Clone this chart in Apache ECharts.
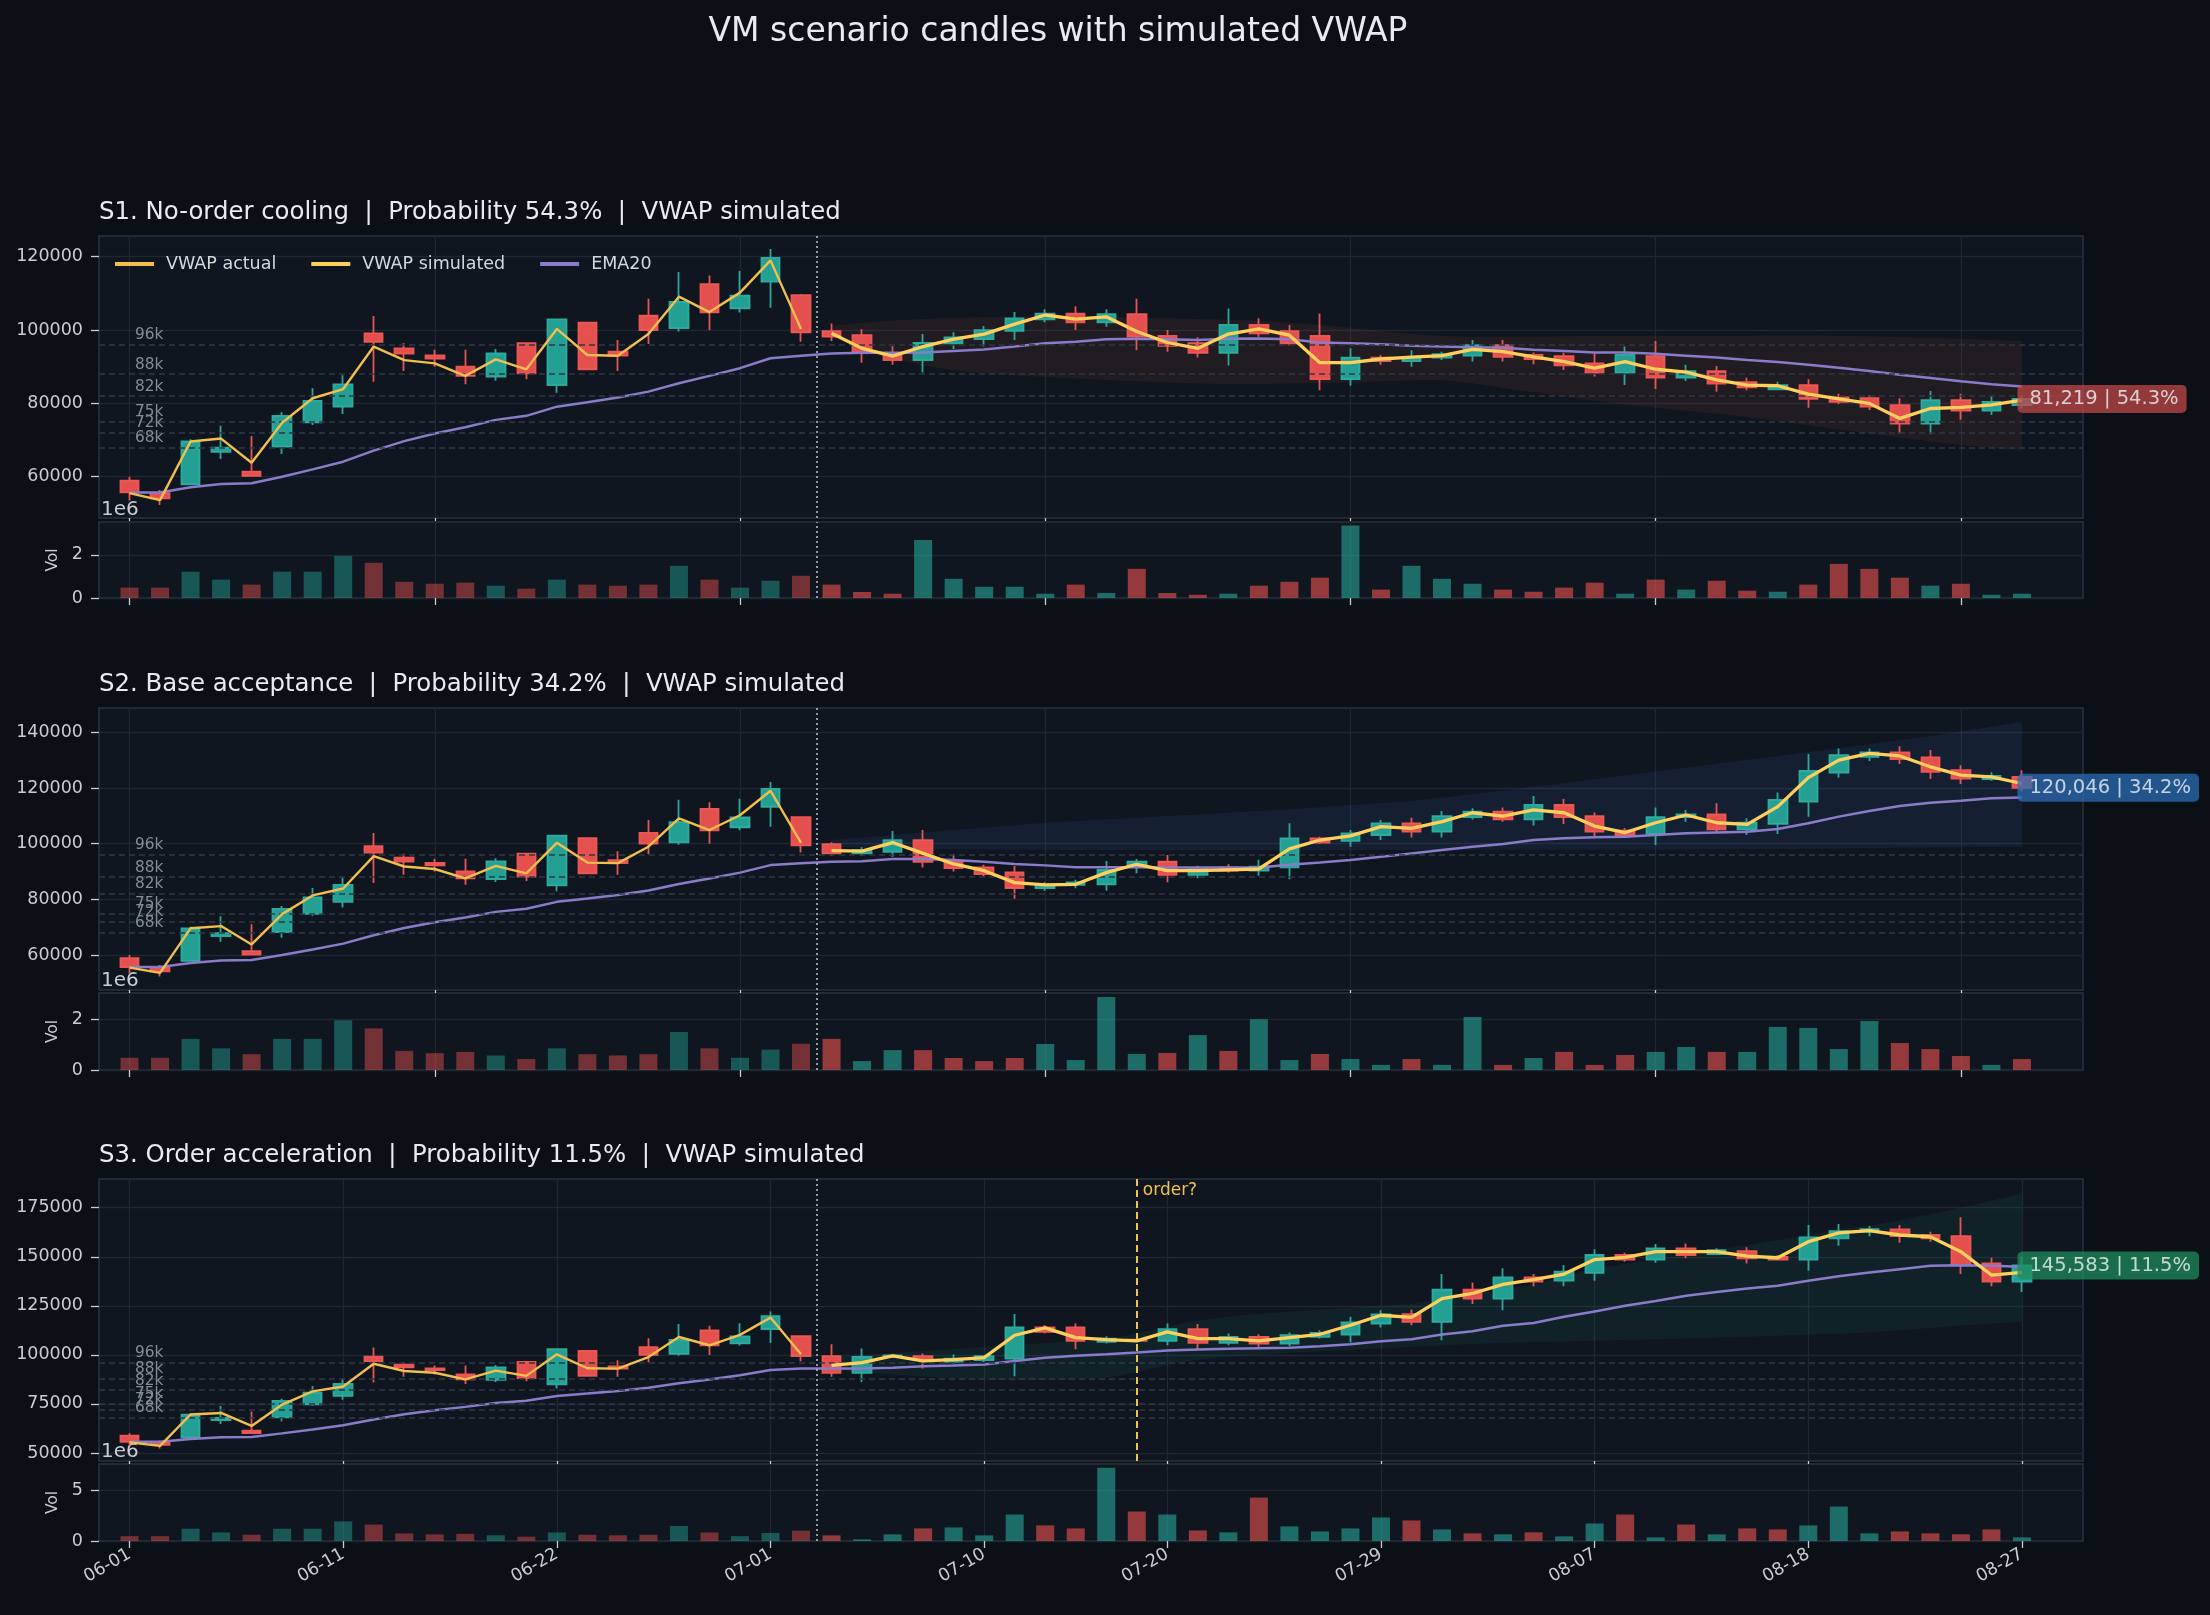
<!DOCTYPE html>
<html>
<head>
<meta charset="utf-8">
<title>VM scenario candles with simulated VWAP</title>
<script src="https://cdn.jsdelivr.net/npm/echarts@6/dist/echarts.min.js"></script>
<style>
  html, body { margin: 0; padding: 0; background: #0b1017; }
  #main { width: 2210px; height: 1615px; }
</style>
</head>
<body>
<div id="main"></div>
<script>
// trading days, index 0..62
const dates = ['06-01','06-03','06-04','06-05','06-08','06-09','06-10','06-11','06-12','06-15',
  '06-16','06-17','06-18','06-19','06-22','06-23','06-24','06-25','06-26','06-29',
  '06-30','07-01','07-02','07-03','07-06','07-07','07-08','07-09','07-10','07-13',
  '07-14','07-15','07-16','07-17','07-20','07-21','07-22','07-23','07-24','07-27',
  '07-28','07-29','07-30','07-31','08-03','08-04','08-05','08-06','08-07','08-10',
  '08-11','08-12','08-13','08-14','08-17','08-18','08-19','08-20','08-21','08-24',
  '08-25','08-26','08-27'];
const lastHistIdx = 22;
const orderIdx = 33;

// actual candles (shared by all scenarios)
const histOpen  = [58900,55500,57900,66800,61400,68200,74800,79100,99100,95000,93100,90000,87300,96400,85000,102000,94100,103900,100500,112500,105900,113200,109500];
const histClose = [55700,54100,69600,67900,60200,76600,80700,85200,96800,93600,92200,87500,93600,88200,102900,89300,93000,100000,107700,104800,109400,119700,99400];
const histLow   = [53500,52300,57700,64800,60000,66200,74100,77100,85900,88800,90000,85200,86200,86600,82900,89100,88800,96200,99600,100000,104800,106100,96800];
const histHigh  = [60000,56400,70200,73900,71100,77600,84100,87700,103800,96400,94600,94600,94800,96600,103100,102200,97300,108500,115800,114900,116100,122100,109800];
const vwapActual = [55500,53600,69600,70400,63800,74700,81400,83900,95500,91800,90900,87500,92000,89300,100300,93200,93000,98900,109100,104900,110200,119000,100300];
const emaHist   = [55700,55700,57100,58000,58200,60000,62000,64100,67100,69700,71800,73500,75500,76600,79100,80300,81600,83200,85500,87500,89600,92300,93000];
const volHist   = [0.48,0.48,1.22,0.85,0.62,1.22,1.22,1.95,1.63,0.75,0.66,0.71,0.57,0.43,0.85,0.62,0.57,0.62,1.49,0.85,0.48,0.80,1.03]; // x1e6

// S1 simulated path (idx 23..62)
const s1Open  = [99700,98600,93600,91800,96400,97500,99800,102900,104500,102100,104300,98400,96400,93800,101400,99700,98400,86600,92500,91500,92500,93000,95900,93200,92900,90900,88400,92900,87000,88800,85800,83800,85000,81600,81400,79500,74500,80900,78000,79500];
const s1Close = [98200,93900,91800,96500,98000,100000,103200,104500,102100,104300,98200,95700,93800,101400,99100,96400,86600,92500,91500,92700,93400,95900,92700,92100,90400,88400,93200,87000,88800,85400,84400,85000,81200,80400,79100,74500,80900,78000,80400,81219];
const s1Low   = [97000,91100,90500,88400,94800,95500,97300,102100,100000,100900,94500,94100,92500,90300,98200,95700,83600,84800,90500,90000,91800,91400,91400,90700,89100,87300,85000,83900,86100,83200,83600,83600,78800,79800,78200,71800,71600,75500,76800,78600];
const s1High  = [101800,100200,95600,98900,99400,101100,104900,105700,106500,105700,108500,100000,98000,105900,103200,101400,104500,95000,93200,94500,94100,97300,97300,93900,93800,93600,95500,97000,90500,90200,87000,85900,86600,82600,82300,81400,83400,82600,82000,82300];
const s1Vwap  = [99100,95000,92900,95500,97500,98900,101600,104100,103000,103600,99600,96600,95000,98900,100300,98600,91100,91100,92100,92600,93000,94700,94100,92700,91400,89600,91400,89300,88500,86400,85000,84800,82500,81200,80000,75900,78600,78900,79600,80900];
const s1Ema   = [93600,93800,93800,93900,94300,94700,95500,96400,96800,97500,97600,97500,97300,97600,97700,97500,96600,96400,96100,95700,95500,95300,95200,94600,94300,93900,93900,93500,93000,92500,91800,91300,90500,89700,88800,87800,86900,86000,85200,84600];
const s1Vol   = [0.62,0.28,0.20,2.69,0.89,0.52,0.52,0.20,0.62,0.23,1.35,0.23,0.15,0.20,0.57,0.75,0.94,3.36,0.39,1.49,0.89,0.66,0.39,0.29,0.48,0.71,0.20,0.85,0.39,0.80,0.34,0.29,0.62,1.58,1.35,0.94,0.57,0.66,0.15,0.20];
const s1BandHi = [101200,102000,102600,103000,103300,103500,103600,103700,103700,103600,103400,103200,103000,102800,102500,102000,101400,100600,99700,98900,98400,98200,98200,98200,98300,98400,98400,98400,98400,98400,98400,98500,98500,98400,98300,98100,97900,97600,97300,97100];
const s1BandLo = [98000,95000,92300,90300,89000,88200,87600,87200,86800,86400,86000,85700,85400,85300,85300,85400,85500,85700,86000,86300,86400,85500,84200,83000,81800,80700,79700,78800,78000,77200,76300,75200,74000,72900,71800,70700,69600,68700,67900,67100];

// S2 simulated path
const s2Open  = [99800,96500,97100,101300,93500,91500,89700,84000,85200,85400,92400,93500,88800,91400,90300,91500,101900,101000,103100,107300,104300,109500,111500,108700,113900,109900,104700,103500,109500,110500,105100,107100,115100,125500,131200,132800,131000,126400,123200,124000];
const s2Close = [96500,97700,101300,93500,91200,89100,84000,85200,86100,90600,93500,88800,90800,90300,91700,101900,100400,103700,107300,104300,109900,111500,108700,113900,109500,104300,103100,109500,110500,105100,107500,115700,126100,131800,132800,130400,125800,123400,124300,120046];
const s2Low   = [95700,95700,95300,91400,90000,88200,80200,83100,84000,83100,89400,86100,87600,89600,88500,87200,99900,98900,101300,102200,102200,108700,107900,106500,107100,102500,102500,99500,107900,104000,103100,103500,109700,123700,129700,128600,123200,121400,122600,118700];
const s2High  = [100500,98700,104500,104900,96300,92400,92000,86100,87000,93800,94500,95900,92100,92600,94200,107300,102500,104900,108500,109300,111700,112700,113000,117100,116000,111200,105500,113000,112100,114500,109100,118400,132200,134200,134200,135000,133600,128200,125600,126400];
const s2Vwap  = [97500,97300,100400,96500,92700,90300,86000,85200,85400,89600,92600,90300,90300,90600,90900,98100,101300,102800,106100,105500,107900,111100,109900,112100,111100,106300,104000,107500,110300,107500,106900,113300,123700,130000,132400,131500,127600,124600,124000,121600];
const s2Ema   = [93500,93700,94500,94500,94100,93500,92700,92200,91500,91500,91500,91400,91400,91400,91400,92400,93200,94100,95300,96500,97700,98900,99900,101300,101900,102300,102500,103100,103700,104000,104300,105300,107300,109700,111700,113500,114700,115400,116300,116600];
const s2Vol   = [1.22,0.35,0.78,0.78,0.47,0.35,0.47,1.02,0.39,2.86,0.63,0.67,1.37,0.75,1.99,0.39,0.63,0.43,0.20,0.43,0.20,2.08,0.20,0.47,0.71,0.20,0.59,0.71,0.90,0.71,0.71,1.69,1.65,0.82,1.92,1.06,0.82,0.55,0.20,0.43];
const s2BandHi = [101300,102200,103100,104000,104900,105700,106600,107500,108100,108700,109300,109900,110500,111100,111700,112400,113100,113800,114500,115300,116500,117800,119100,120400,121700,123100,124500,125900,127300,128700,130100,131500,132900,134300,135700,137100,138600,140300,142000,143800];
const s2BandLo = [99000,98600,98300,98100,98000,97900,97800,97800,97700,97700,97700,97600,97600,97600,97600,97600,97600,97600,97700,97700,97700,97800,97800,97800,97800,97800,97800,97800,97900,97900,98000,98100,98200,98300,98400,98500,98600,98700,98800,98900];

// S3 simulated path
const s3Open  = [99300,90800,99000,99300,96400,97300,98100,114000,114000,106600,107800,107100,113100,106100,109200,105800,109200,110400,116000,120800,116800,133300,128700,139500,137800,141800,150900,148600,154300,151400,152900,150000,148600,159400,162800,164000,161100,160500,146600,137300];
const s3Close = [90800,99000,99800,97300,98100,99300,114000,111700,107100,108300,107100,113100,106100,109200,105800,110000,111200,116500,120600,116800,133300,128700,139500,137300,142400,150900,148600,154300,150900,153400,149200,148600,159900,163100,164100,160500,159400,145800,137300,145583];
const s3Low   = [88800,86200,98500,93000,95200,96400,89100,110900,102900,105800,106600,104900,102900,104900,104100,104400,108300,106300,113900,115100,107500,125900,122800,135000,135000,137800,147500,146900,149200,150900,146600,148300,142900,155600,160500,157100,157700,141200,135000,132100];
const s3High  = [105400,103200,100300,100700,100200,99800,120800,115100,116000,109500,108300,116000,115700,110900,110500,111400,112600,119400,122800,123100,141200,136900,144100,141200,145800,153900,152000,156500,156800,154300,154800,150900,166200,166700,165700,166200,162800,170100,149500,150000];
const s3Vwap  = [94700,96100,99500,96900,97600,98600,110000,113800,108800,107800,107100,111700,108300,108300,107100,108800,110500,115100,120200,119100,128700,131300,135900,138400,141200,148600,149700,152600,152600,152600,150300,149500,157700,162200,163300,161100,160200,152600,140700,142000];
const s3Ema   = [93000,93000,93500,94200,94600,95100,96900,98600,99500,100300,101200,102200,102700,103100,103400,103700,104400,105400,107000,108000,110400,112100,114800,116300,119400,122100,125000,127500,130100,132100,133800,135200,137800,140100,142000,143700,145400,145700,145400,144900];
const s3Vol   = [0.56,0.16,0.66,1.25,1.35,0.56,2.63,1.55,1.25,7.27,2.93,2.63,1.05,0.86,4.31,1.45,0.95,1.25,2.34,2.04,1.15,0.76,0.66,0.86,0.46,1.74,2.63,0.36,1.64,0.66,1.25,1.15,1.55,3.42,0.76,0.95,0.76,0.66,1.15,0.36];
const s3BandHi = [99000,100000,101000,102000,103000,104000,105000,106000,107000,108000,111000,114500,117500,119500,121000,122000,123000,124000,125000,126000,128500,131000,133500,136000,140000,144000,146500,148500,151000,153500,156000,158500,161000,164000,166000,168500,171500,175000,178500,182300];
const s3BandLo = [92000,91000,90000,89000,88000,87300,87000,87200,87600,88500,91000,95000,97500,99000,100000,101000,101800,102500,103200,104000,104800,105500,106000,106400,106800,107200,107600,108000,108400,108800,109300,109800,110300,110800,111500,112500,113700,115000,116000,116800];

// reference levels
const levels = [96000, 88000, 82000, 75000, 72000, 68000];
const levelLabels = ['96k', '88k', '82k', '75k', '72k', '68k'];

const titles = [
  'S1. No-order cooling  |  Probability 54.3%  |  VWAP simulated',
  'S2. Base acceptance  |  Probability 34.2%  |  VWAP simulated',
  'S3. Order acceleration  |  Probability 11.5%  |  VWAP simulated'
];
const endLabels = ['81,219 | 54.3%', '120,046 | 34.2%', '145,583 | 11.5%'];

// layout / style per panel
const FONT = 'DejaVu Sans';
const ticks10 = [0, 10, 20, 30, 40, 50, 60];
const ticksS3 = [0, 7, 14, 21, 28, 34, 41, 48, 55, 62];
const panels = [
  { o: s1Open, c: s1Close, l: s1Low, h: s1High, vwap: s1Vwap, ema: s1Ema, vol: s1Vol, hi: s1BandHi, lo: s1BandLo,
    top: 236, volTop: 522, volH: 76, yMin: 48737, yMax: 125645, yTicks: [60000, 80000, 100000, 120000],
    volMax: 3.52e6, volTicks: [0, 2e6], xTicks: ticks10, band: 'rgba(239,83,80,0.08)', box: 'rgba(190,70,72,0.94)' },
  { o: s2Open, c: s2Close, l: s2Low, h: s2High, vwap: s2Vwap, ema: s2Ema, vol: s2Vol, hi: s2BandHi, lo: s2BandLo,
    top: 708, volTop: 993, volH: 77, yMin: 47444, yMax: 148717, yTicks: [60000, 80000, 100000, 120000, 140000],
    volMax: 3.02e6, volTicks: [0, 2e6], xTicks: ticks10, band: 'rgba(58,123,213,0.10)', box: 'rgba(44,107,181,0.94)' },
  { o: s3Open, c: s3Close, l: s3Low, h: s3High, vwap: s3Vwap, ema: s3Ema, vol: s3Vol, hi: s3BandHi, lo: s3BandLo,
    top: 1179, volTop: 1464, volH: 77, yMin: 45918, yMax: 189643, yTicks: [50000, 75000, 100000, 125000, 150000, 175000],
    volMax: 7.65e6, volTicks: [0, 5e6], xTicks: ticksS3, band: 'rgba(38,166,154,0.08)', box: 'rgba(30,139,92,0.94)' }
];

const GRID_LEFT = 99, GRID_W = 1984, PRICE_H = 282;
const tickColor = '#c9cdd3';
const gridLine = { show: true, lineStyle: { color: '#1f2732', width: 1.3 } };

const chart = echarts.init(document.getElementById('main'));

const grids = [], xAxes = [], yAxes = [], series = [];

function xAxisFor(gridIndex, ticks, showLabels, tickLen) {
  return {
    type: 'value', gridIndex: gridIndex, min: -1, max: 64,
    axisLine: { show: false, onZero: false },
    axisTick: { show: true, customValues: ticks, length: tickLen, lineStyle: { color: tickColor, width: 1.3 } },
    axisLabel: {
      show: showLabels, customValues: ticks, rotate: 30, margin: 12,
      color: tickColor, fontSize: 17.5, fontFamily: FONT,
      formatter: function (v) { return dates[v] || ''; }
    },
    splitLine: gridLine
  };
}

function yAxisFor(gridIndex, min, max, ticks, fmt) {
  return {
    type: 'value', gridIndex: gridIndex, min: min, max: max,
    axisLine: { show: false, onZero: false },
    axisTick: { show: true, customValues: ticks, length: 8, lineStyle: { color: tickColor, width: 1.3 } },
    axisLabel: { customValues: ticks, margin: 16, color: tickColor, fontSize: 17.5, fontFamily: FONT, formatter: fmt },
    splitLine: gridLine
  };
}

const gridStyle = { show: true, backgroundColor: '#10161f', borderColor: '#2a323c', borderWidth: 1.5 };

panels.forEach(function (p, k) {
  const gi = k * 2, vi = k * 2 + 1;
  grids.push(Object.assign({ left: GRID_LEFT, top: p.top, width: GRID_W, height: PRICE_H }, gridStyle));
  grids.push(Object.assign({ left: GRID_LEFT, top: p.volTop, width: GRID_W, height: p.volH }, gridStyle));
  xAxes.push(xAxisFor(gi, p.xTicks, false, 3));
  xAxes.push(xAxisFor(vi, p.xTicks, k === 2, 7));
  yAxes.push(yAxisFor(gi, p.yMin, p.yMax, p.yTicks, function (v) { return String(v); }));
  yAxes.push(yAxisFor(vi, 0, p.volMax, p.volTicks, function (v) { return String(v / 1e6); }));

  const open = histOpen.concat(p.o), close = histClose.concat(p.c);
  const low = histLow.concat(p.l), high = histHigh.concat(p.h);
  const vols = volHist.concat(p.vol);
  const first = lastHistIdx + 1;

  // simulated range band
  series.push({
    type: 'custom', xAxisIndex: gi, yAxisIndex: gi, silent: true,
    data: [[first, p.lo[0]]], encode: { x: 0, y: 1 },
    renderItem: function (params, api) {
      const pts = [];
      p.hi.forEach(function (v, j) { pts.push(api.coord([first + j, v])); });
      for (let j = p.lo.length - 1; j >= 0; j--) pts.push(api.coord([first + j, p.lo[j]]));
      return { type: 'polygon', shape: { points: pts }, style: { fill: p.band } };
    }
  });

  // candles + reference levels + divider
  const marks = levels.map(function (v, j) {
    return { yAxis: v, label: { formatter: levelLabels[j] } };
  });
  marks.push({ xAxis: lastHistIdx + 0.5, lineStyle: { type: [2, 3], color: '#b4bac2', width: 1.6 }, label: { show: false } });
  if (k === 2) {
    marks.push({ xAxis: orderIdx, lineStyle: { type: [7, 4], color: '#f2c14e', width: 2 }, label: { show: false } });
  }
  series.push({
    type: 'candlestick', name: 'candles', xAxisIndex: gi, yAxisIndex: gi,
    data: open.map(function (o, i) { return [i, o, close[i], low[i], high[i]]; }),
    encode: { x: 0, y: [1, 2, 3, 4] },
    barWidth: 19,
    itemStyle: {
      color: '#26a69a', color0: '#ef5350',
      borderColor: '#2eb0a2', borderColor0: '#f15a57',
      borderWidth: 1.8, opacity: 0.95
    },
    markLine: {
      silent: true, symbol: ['none', 'none'], animation: false,
      lineStyle: { type: [6, 4], color: '#2e3844', width: 1.5 },
      label: { show: true, position: 'insideStartTop', distance: [36, 2], color: '#858d97', fontSize: 15.3, fontFamily: FONT },
      data: marks
    }
  });

  // EMA20 across whole range
  series.push({
    type: 'line', name: 'EMA20', xAxisIndex: gi, yAxisIndex: gi, color: '#8b7ccb',
    data: emaHist.concat(p.ema).map(function (v, i) { return [i, v]; }),
    symbol: 'none', lineStyle: { width: 2.5 }, z: 4
  });
  series.push({
    type: 'line', name: 'VWAP actual', xAxisIndex: gi, yAxisIndex: gi, color: '#f2bf4f',
    data: vwapActual.map(function (v, i) { return [i, v]; }),
    symbol: 'none', lineStyle: { width: 2.4 }, z: 5
  });
  series.push({
    type: 'line', name: 'VWAP simulated', xAxisIndex: gi, yAxisIndex: gi, color: '#ffcf5c',
    data: p.vwap.map(function (v, j) { return [first + j, v]; }),
    symbol: 'none', lineStyle: { width: 3.3 }, z: 5
  });

  // final close tag
  series.push({
    type: 'scatter', xAxisIndex: gi, yAxisIndex: gi, silent: true, z: 10,
    data: [[open.length - 1, close[close.length - 1]]],
    symbolSize: 1, itemStyle: { color: p.box },
    label: {
      show: true, position: 'right', distance: -5, formatter: endLabels[k],
      color: '#eef2f6', fontSize: 19.5, fontFamily: FONT,
      backgroundColor: p.box, padding: [4, 8, 4, 12], borderRadius: 5
    }
  });

  // volume
  series.push({
    type: 'bar', xAxisIndex: vi, yAxisIndex: vi, barWidth: 18,
    data: vols.map(function (v, i) {
      const up = close[i] >= open[i];
      const a = i <= lastHistIdx ? 0.45 : 0.6;
      return { value: [i, v * 1e6], itemStyle: { color: up ? 'rgba(38,166,154,' + a + ')' : 'rgba(239,83,80,' + a + ')' } };
    }),
    markLine: {
      silent: true, symbol: ['none', 'none'], animation: false, label: { show: false },
      lineStyle: { type: [2, 3], color: '#b4bac2', width: 1.6 },
      data: [{ xAxis: lastHistIdx + 0.5 }]
    }
  });
});

chart.setOption({
  backgroundColor: '#0b1017',
  animation: false,
  grid: grids,
  xAxis: xAxes,
  yAxis: yAxes,
  legend: {
    data: ['VWAP actual', 'VWAP simulated', 'EMA20'],
    left: 110, top: 250, icon: 'rect', itemWidth: 39, itemHeight: 4, itemGap: 35,
    selectedMode: false,
    textStyle: { color: '#d4d8dd', fontSize: 17.5, fontFamily: FONT, padding: [0, 0, 0, 7] }
  },
  series: series
});

// texts: titles, offset labels, axis names, order marker
const txt = function (text, x, y, size, color, align, valign, extra) {
  return Object.assign({
    type: 'text', x: x, y: y, silent: true,
    style: { text: text, fill: color, font: size + 'px "' + FONT + '"', align: align, verticalAlign: valign, textAlign: align, textVerticalAlign: valign }
  }, extra || {});
};
const els = [txt('VM scenario candles with simulated VWAP', 1058, 32, 33, '#e8ebef', 'center', 'middle')];
panels.forEach(function (p, k) {
  els.push(txt(titles[k], 99, p.top - 23.5, 24.4, '#e8ebef', 'left', 'middle'));
  els.push(txt('1e6', 101, p.volTop - 2, 20, tickColor, 'left', 'bottom'));
  els.push(txt('Vol', 53, p.volTop + p.volH / 2, 15.5, tickColor, 'center', 'middle', { rotation: Math.PI / 2 }));
});
const op = chart.convertToPixel({ xAxisIndex: 4, yAxisIndex: 4 }, [orderIdx, 100000]);
els.push(txt('order?', op[0] + 6, panels[2].top + 3, 17, '#f2c14e', 'left', 'top'));
chart.setOption({ graphic: { elements: els } });
</script>
</body>
</html>
